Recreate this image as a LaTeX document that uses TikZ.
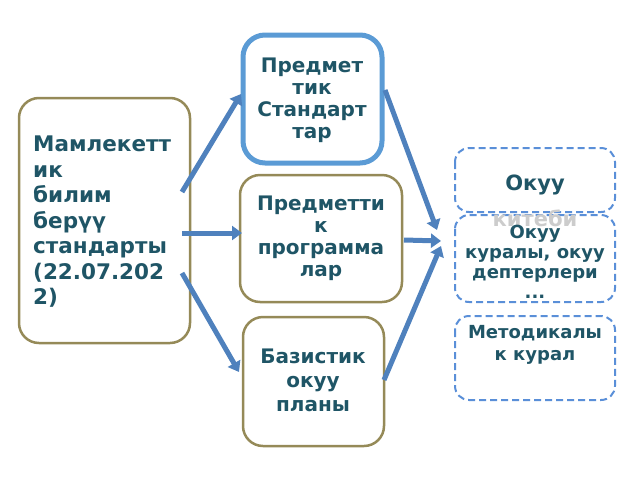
\documentclass[tikz,border=0pt]{standalone}
\usepackage{fontspec}
\setmainfont{DejaVu Sans}
\usetikzlibrary{arrows.meta}
\definecolor{txtc}{HTML}{1F5566}
\definecolor{olive}{HTML}{958A58}
\definecolor{arrc}{HTML}{4F81BD}
\definecolor{lblue}{HTML}{5B9BD5}
\definecolor{dblue}{HTML}{5A8FD8}
\begin{document}
\begin{tikzpicture}[
    x=1pt, y=-1pt,
    every node/.style={font=\bfseries, text=txtc, align=center, inner sep=0pt},
    box/.style={draw=olive, line width=2.5pt, rounded corners=20pt},
    topbox/.style={draw=lblue, line width=5pt, rounded corners=22pt},
    resbox/.style={draw=dblue, line width=2pt, dashed, dash pattern=on 7pt off 4pt, rounded corners=14pt},
    flow/.style={-{Triangle[length=10pt,width=14pt]}, draw=arrc, line width=5pt}
]
\useasboundingbox (0,0) rectangle (640,480);

% Boxes
\draw[box] (19,98) rectangle (190,343);
\draw[topbox] (243,35) rectangle (382,163);
\draw[box] (240,175) rectangle (402,302);
\draw[box] (243,317) rectangle (384,446);
\draw[resbox] (455,148) rectangle (615,212);
\draw[resbox] (455,215) rectangle (615,302);
\draw[resbox] (455,316) rectangle (615,400);

% Texts
\node[align=left, anchor=west, font=\bfseries\fontsize{21.5}{25.5}\selectfont] (state) at (33,222)
  {Мамлекетт\\ик\\билим\\берүү\\стандарты\\(22.07.202\\2)};
\node[font=\bfseries\fontsize{20}{22}\selectfont] (subst) at (312,100) {Предмет\\тик\\Стандарт\\тар};
\node[font=\bfseries\fontsize{20}{22}\selectfont] (subprog) at (321,238) {Предметти\\к\\программа\\лар};
\node[font=\bfseries\fontsize{20}{24}\selectfont] (plan) at (313,380) {Базистик\\окуу\\планы};
\node[font=\bfseries\fontsize{21}{24}\selectfont] (book) at (535,185) {Окуу};
\node[font=\bfseries\fontsize{21}{24}\selectfont, text=gray!40] (bookb) at (535,218) {китеби};
\node[font=\bfseries\fontsize{18}{20}\selectfont] (aids) at (535,262) {Окуу\\куралы, окуу\\дептерлери\\...};
\node[font=\bfseries\fontsize{18}{22}\selectfont] (method) at (535,345) {Методикалы\\к курал};

% Arrows
\coordinate (s1) at (182,192); \coordinate (t1) at (241,94);
\coordinate (s2) at (182,233); \coordinate (t2) at (242,233);
\coordinate (s3) at (182,273); \coordinate (t3) at (239,372);
\coordinate (s4) at (385,90);  \coordinate (t4) at (437,230);
\coordinate (s5) at (404,240); \coordinate (t5) at (441,241);
\coordinate (s6) at (384,380); \coordinate (t6) at (441,246);
\foreach \i in {1,...,6} \draw[flow] (s\i) -- (t\i);

\end{tikzpicture}
\end{document}
